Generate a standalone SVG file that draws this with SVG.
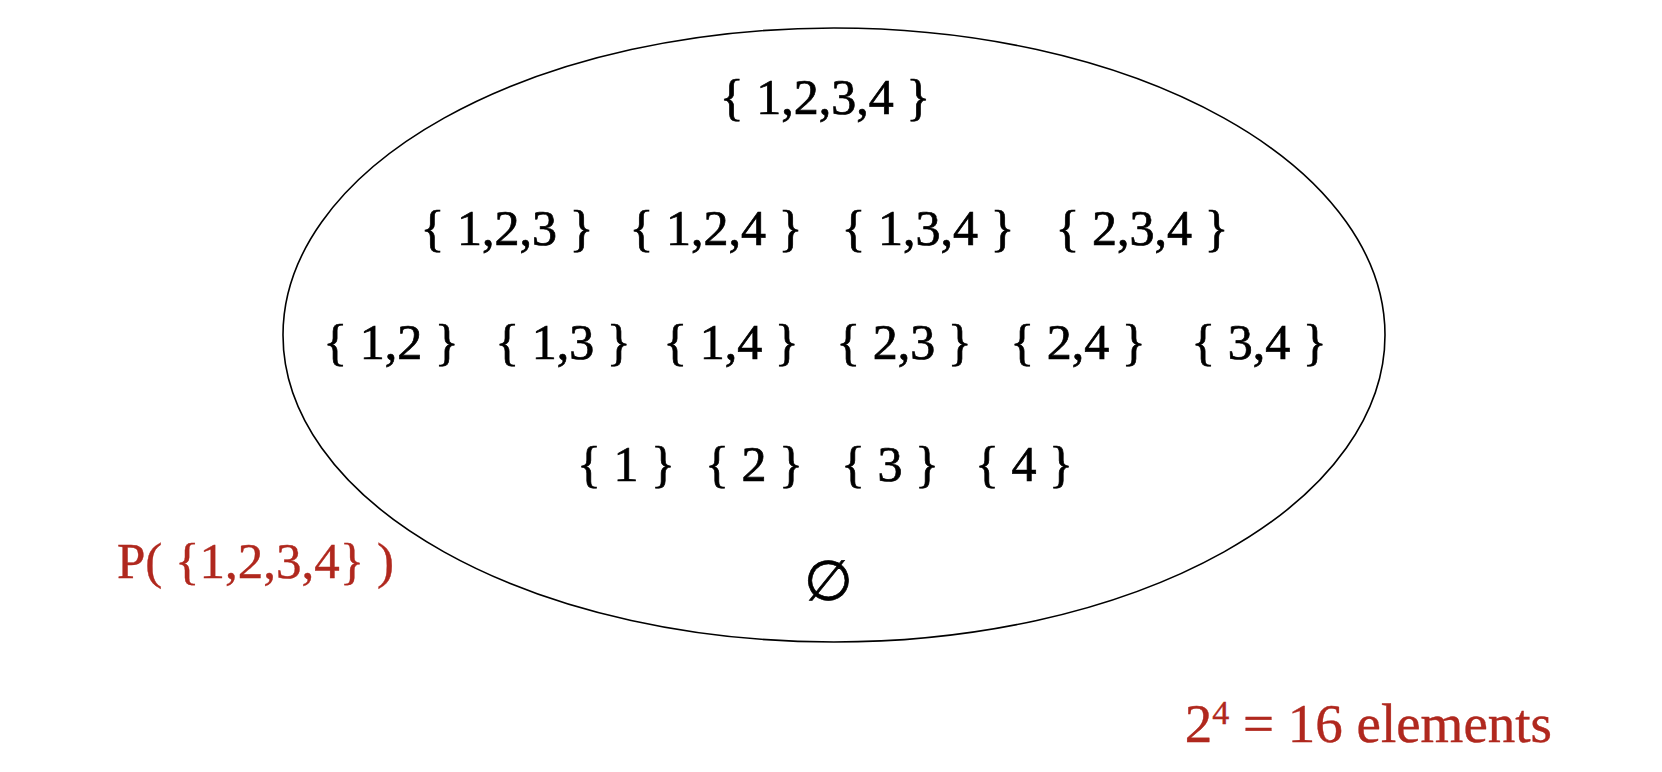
<svg xmlns="http://www.w3.org/2000/svg" width="1662" height="772" viewBox="0 0 1662 772">
<style>
.set{font-family:"Liberation Serif","DejaVu Serif",serif;font-size:50px;fill:#000;stroke:#000;stroke-width:0.7;text-anchor:middle}
.red{font-family:"Liberation Serif","DejaVu Serif",serif;font-size:51px;fill:#B0281E;stroke:#B0281E;stroke-width:0.4}
</style>
<rect width="1662" height="772" fill="#fff"/>
<g id="powerset">
<ellipse cx="834" cy="335" rx="551" ry="307" fill="none" stroke="#000" stroke-width="1.6"/>
</g>
<g id="row1">
<text class="set" x="825" y="114">{ 1,2,3,4 }</text>
</g>
<g id="row2">
<text class="set" x="507" y="245">{ 1,2,3 }</text>
<text class="set" x="716" y="245">{ 1,2,4 }</text>
<text class="set" x="928" y="245">{ 1,3,4 }</text>
<text class="set" x="1142" y="245">{ 2,3,4 }</text>
</g>
<g id="row3">
<text class="set" x="391" y="359">{ 1,2 }</text>
<text class="set" x="563" y="359">{ 1,3 }</text>
<text class="set" x="731" y="359">{ 1,4 }</text>
<text class="set" x="904" y="359">{ 2,3 }</text>
<text class="set" x="1078" y="359">{ 2,4 }</text>
<text class="set" x="1259" y="359">{ 3,4 }</text>
</g>
<g id="row4">
<text class="set" x="626" y="481">{ 1 }</text>
<text class="set" x="754" y="481">{ 2 }</text>
<text class="set" x="890" y="481">{ 3 }</text>
<text class="set" x="1024" y="481">{ 4 }</text>
</g>
<g id="emptyset">
<text class="set" x="828" y="600" style="font-size:56px">∅</text>
</g>
<g id="label-p">
<text class="red" x="117" y="578">P( {1,2,3,4} )</text>
</g>
<g id="label-count">
<text class="red" x="1552" y="742" text-anchor="end" style="font-size:55px">2<tspan font-size="34" dy="-18">4</tspan><tspan dy="18"> = 16 elements</tspan></text>
</g>
</svg>
